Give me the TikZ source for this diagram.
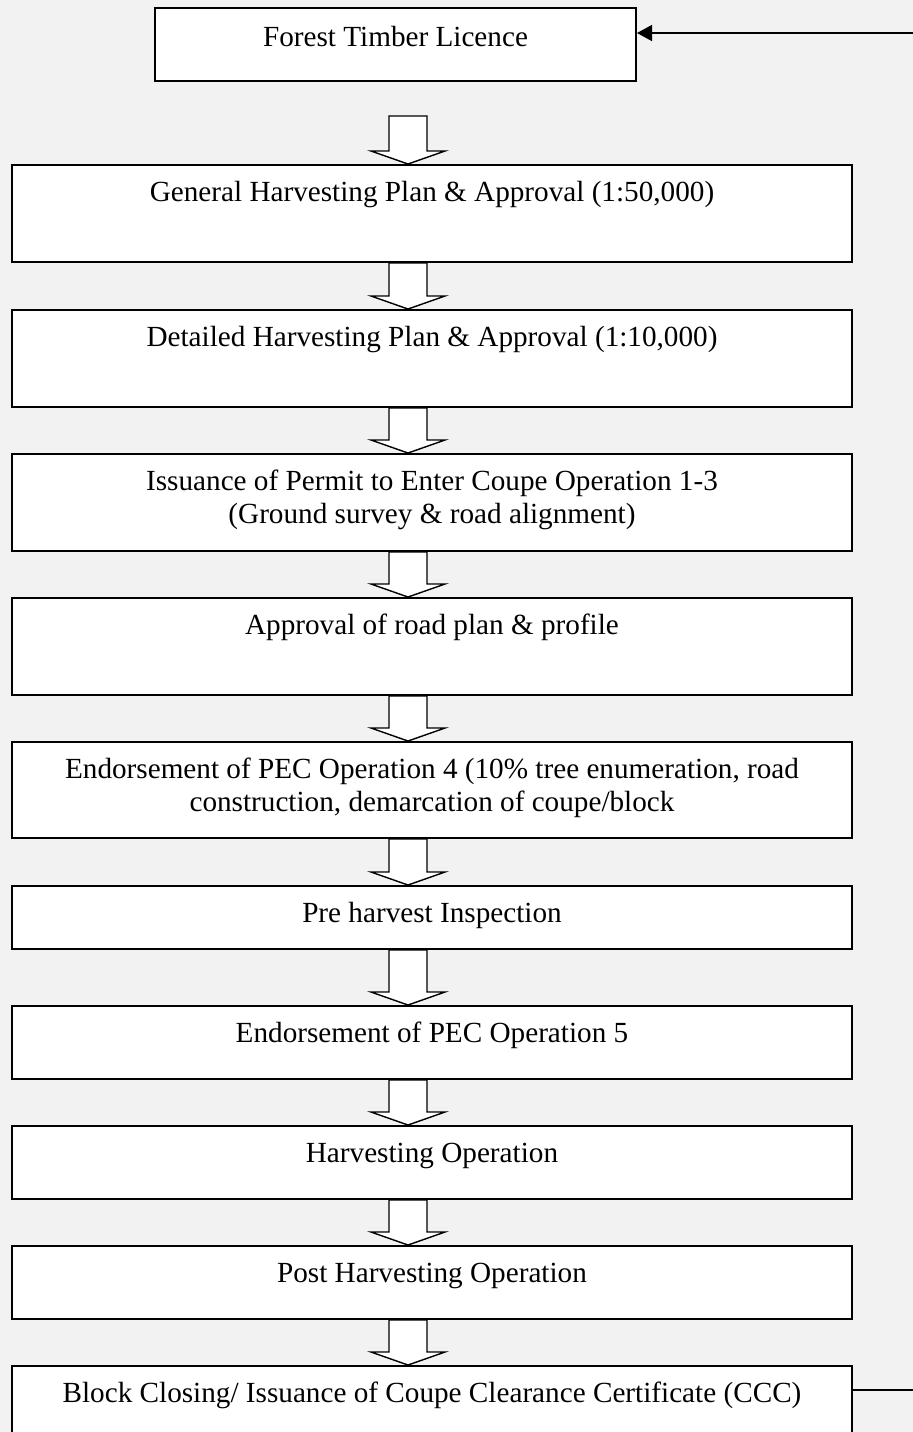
\documentclass[tikz,border=0pt]{standalone}
\usepackage{fontspec}
\setmainfont{Liberation Serif}
\usepackage{tikz}
\usetikzlibrary{arrows.meta,calc}
\definecolor{pagebg}{HTML}{F2F2F2}

\begin{document}
\begin{tikzpicture}[x=0.5pt,y=-0.5pt,
  every node/.style={font=\fontsize{14.6}{16.5}\selectfont},
  box/.style={draw,line width=1pt,fill=white,minimum width=420pt,inner sep=0pt},
  txt/.style={align=center,inner sep=0pt,anchor=base},
  blk/.style={draw,line width=0.7pt,fill=white,line join=miter},
  fb/.style={-{Triangle[length=7.5pt,width=8pt]},line width=0.7pt}]
 \fill[pagebg] (0,0) rectangle (913,1432);
 \clip (0,0) rectangle (913,1432);
 % stage boxes
 \node[box,minimum width=240.5pt,minimum height=36.5pt] (b1) at (395.5,44.5) {};
 \foreach \n/\y/\h in {b2/213.5/48.5,b3/358.5/48.5,b4/502.5/48.5,b5/646.5/48.5,b6/790/48,
   b7/917.5/31.5,b8/1042.5/36.5,b9/1162.5/36.5,b10/1282.5/36.5,b11/1403/37}
   \node[box,minimum height=\h pt] (\n) at (432,\y) {};
 % texts (base = last line)
 \node[txt] (t1) at ($(b1.north)+(0,39)$) {Forest Timber Licence};
 \node[txt] (t2) at ($(b2.north)+(0,37)$) {General Harvesting Plan \& Approval (1:50,000)};
 \node[txt] (t3) at ($(b3.north)+(0,37)$) {Detailed Harvesting Plan \& Approval (1:10,000)};
 \node[txt] (t4) at ($(b4.north)+(0,70)$) {Issuance of Permit to Enter Coupe Operation 1-3\\(Ground survey \& road alignment)};
 \node[txt] (t5) at ($(b5.north)+(0,37)$) {Approval of road plan \& profile};
 \node[txt] (t6) at ($(b6.north)+(0,70)$) {Endorsement of PEC Operation 4 (10\% tree enumeration, road\\construction, demarcation of coupe/block};
 \node[txt] (t7) at ($(b7.north)+(0,37)$) {Pre harvest Inspection};
 \node[txt] (t8) at ($(b8.north)+(0,37)$) {Endorsement of PEC Operation 5};
 \node[txt] (t9) at ($(b9.north)+(0,37)$) {Harvesting Operation};
 \node[txt] (t10) at ($(b10.north)+(0,37)$) {Post Harvesting Operation};
 \node[txt] (t11) at ($(b11.north)+(0,37)$) {Block Closing/ Issuance of Coupe Clearance Certificate (CCC)};
 % block arrows
 \draw[blk] ($(b2.north)+(-43,-48)$) -- ($(b2.north)+(-43,-13)$) -- ($(b2.north)+(-61,-13)$) -- ($(b2.north)+(-24,0)$)
   -- ($(b2.north)+(13,-13)$) -- ($(b2.north)+(-5,-13)$) -- ($(b2.north)+(-5,-48)$) -- cycle;
 \foreach \a/\b in {b2/b3,b3/b4,b4/b5,b5/b6,b6/b7,b7/b8,b8/b9,b9/b10,b10/b11}
   \draw[blk] ($(\a.south)+(-43,0)$) -- ($(\b.north)+(-43,-13)$) -- ($(\b.north)+(-61,-13)$) -- ($(\b.north)+(-24,0)$)
     -- ($(\b.north)+(13,-13)$) -- ($(\b.north)+(-5,-13)$) -- ($(\a.south)+(-5,0)$) -- cycle;
 % loop back
 \coordinate (rb) at (913,1390);
 \coordinate (rt) at (913,33);
 \draw[line width=0.7pt] (b11.east |- rb) -- (rb);
 \draw[fb] (rt) -- (b1.east |- rt);
\end{tikzpicture}
\end{document}
